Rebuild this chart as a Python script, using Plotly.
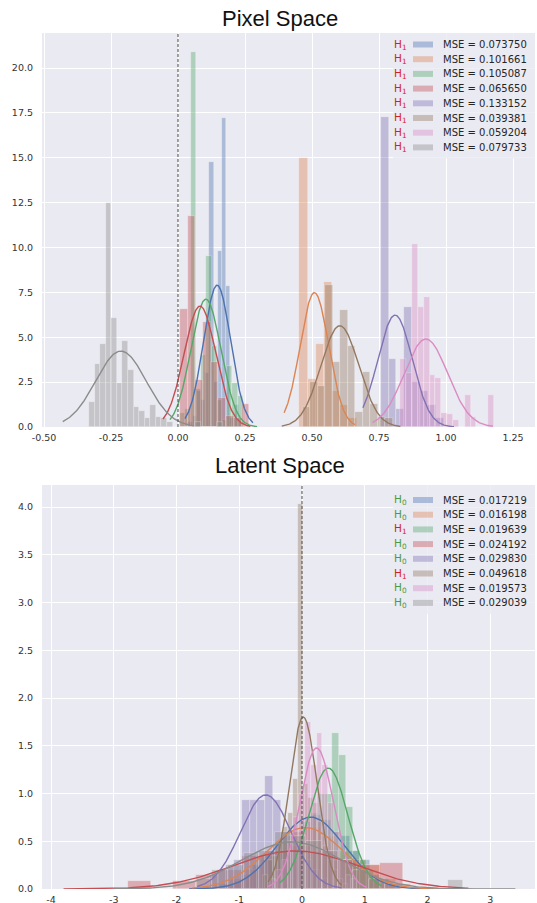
import numpy as np
import plotly.graph_objects as go

FIG_W, FIG_H = 537, 903

PALETTE = ["#4C72B0", "#DD8452", "#55A868", "#C44E52",
           "#8172B3", "#937860", "#DA8BC3", "#8C8C8C"]

# ------------------------------------------------------------------
# Pixel space (top panel)
# ------------------------------------------------------------------
pixel_mse = ["0.073750", "0.101661", "0.105087", "0.065650",
             "0.133152", "0.039381", "0.059204", "0.079733"]
pixel_hyp = ["1", "1", "1", "1", "1", "1", "1", "1"]

pixel_bin_start = [0.0385, 0.453, 0.008, 0.0075, 0.756, 0.465, 0.83, -0.332]
pixel_bin_width = [0.0157, 0.0305, 0.0195, 0.0287, 0.0295, 0.028, 0.0218, 0.0208]

pixel_hist_blue = [0.3, 0.6, 2.0, 1.5, 3.0, 14.75, 2.5, 9.8, 17.2, 7.85, 0.5, 1.2, 0.3]
pixel_hist_orange = [15.0, 2.7, 4.6, 8.1, 2.0, 1.2, 0.5]
pixel_hist_green = [0.8, 1.0, 20.9, 2.1, 4.0, 9.5, 4.5, 1.5, 0.4, 3.4, 2.45, 1.7]
pixel_hist_red = [6.6, 11.75, 2.6, 5.87, 3.6, 1.6, 0.6, 0.5, 1.3]
pixel_hist_purple = [17.27, 3.8, 1.0, 6.7, 2.5, 2.0, 1.2, 0.5]
pixel_hist_brown = [1.1, 2.5, 2.3, 7.9, 3.6, 6.5, 4.5, 0.85, 3.05, 1.3, 0.55, 0.5]
pixel_hist_pink = [3.8, 3.0, 10.2, 6.7, 7.25, 2.9, 2.75, 0.8, 0.75, 0.4, 0.0,
                   1.8, 0.55, 0.0, 0.0, 1.8]
pixel_hist_gray = [1.4, 3.5, 4.6, 12.5, 6.1, 2.45, 4.8, 3.2, 1.1, 0.9, 0.5, 1.2,
                   0.55, 0.5, 0.3, 0.0, 0.0, 0.0, 0.0, 0.3, 0.0, 0.0, 0.0, 0.3]

pixel_fit_mean = [0.146, 0.509, 0.104, 0.082, 0.810, 0.604, 0.925, -0.213]
pixel_fit_std = [0.0505, 0.0533, 0.056, 0.0592, 0.064, 0.0707, 0.0814, 0.0943]
pixel_fit_lo = [0.026, 0.396, -0.03, -0.056, 0.69, 0.387, 0.726, -0.43]
pixel_fit_hi = [0.28, 0.66, 0.295, 0.27, 1.03, 0.83, 1.175, 0.06]

# ------------------------------------------------------------------
# Latent space (bottom panel)
# ------------------------------------------------------------------
latent_mse = ["0.017219", "0.016198", "0.019639", "0.024192",
              "0.029830", "0.049618", "0.019573", "0.029039"]
latent_hyp = ["0", "0", "1", "0", "0", "1", "0", "0"]

latent_bin_start = [-1.40, -1.38, -0.297, -2.78, -1.46, -0.62, -0.508, -1.68]
latent_bin_width = [0.155, 0.24, 0.111, 0.366, 0.125, 0.08, 0.0926, 0.25]

latent_hist_blue = [0.02, 0.05, 0.08, 0.15, 0.25, 0.3, 0.45, 0.55, 0.6, 0.7,
                    0.78, 0.72, 0.6, 0.55, 0.4, 0.3, 0.15, 0.1, 0.05]
latent_hist_orange = [0.05, 0.1, 0.2, 0.35, 0.5, 0.6, 0.65, 0.55, 0.4, 0.3,
                      0.25, 0.1, 0.05]
latent_hist_green = [0.05, 0.1, 0.25, 0.5, 0.8, 1.0, 1.0, 1.63, 1.40, 0.86,
                     0.4, 0.3, 0.2, 0.1]
latent_hist_red = [0.085, 0.0, 0.085, 0.15, 0.2, 0.35, 0.4, 0.45, 0.4, 0.3,
                   0.25, 0.275]
latent_hist_purple = [0.15, 0.2, 0.25, 0.3, 0.93, 0.93, 0.93, 1.18, 0.93, 0.6,
                      0.5, 0.35, 0.3, 0.2, 0.1]
latent_hist_brown = [0.15, 0.3, 0.35, 0.5, 0.65, 0.8, 1.15, 4.03, 1.1, 0.95,
                     0.9, 0.7, 0.45, 0.3, 0.2, 0.1, 0.05]
latent_hist_pink = [0.1, 0.2, 0.3, 0.5, 0.75, 1.0, 1.75, 1.3, 1.63, 1.3, 0.9,
                    0.6, 0.3, 0.15, 0.1]
latent_hist_gray = [0.1, 0.2, 0.25, 0.38, 0.4, 0.6, 0.55, 0.5, 0.4, 0.3, 0.2,
                    0.1, 0.05, 0.0, 0.0, 0.0, 0.095]

latent_fit_mean = [0.138, 0.048, 0.418, -0.11, -0.577, 0.02, 0.233, -0.16]
latent_fit_std = [0.53, 0.62, 0.315, 1.0, 0.405, 0.2216, 0.27, 0.81]
latent_fit_lo = [-1.8, -1.75, -0.35, -3.8, -1.67, -0.54, -0.55, -3.0]
latent_fit_hi = [2.1, 2.3, 1.27, 2.65, 0.63, 0.63, 1.03, 3.4]

pixel_hists = [pixel_hist_blue, pixel_hist_orange, pixel_hist_green, pixel_hist_red,
               pixel_hist_purple, pixel_hist_brown, pixel_hist_pink, pixel_hist_gray]
latent_hists = [latent_hist_blue, latent_hist_orange, latent_hist_green, latent_hist_red,
                latent_hist_purple, latent_hist_brown, latent_hist_pink, latent_hist_gray]

# axis ticks
pixel_xticks = [-0.50, -0.25, 0.00, 0.25, 0.50, 0.75, 1.00, 1.25]
pixel_yticks = [0.0, 2.5, 5.0, 7.5, 10.0, 12.5, 15.0, 17.5, 20.0]
latent_xticks = [-4, -3, -2, -1, 0, 1, 2, 3]
latent_yticks = [0.0, 0.5, 1.0, 1.5, 2.0, 2.5, 3.0, 3.5, 4.0]

HYP_COLORS = {"0": "#4f9a3a", "1": "#d62020"}


def rgba(hex_color, a):
    h = hex_color.lstrip("#")
    r, g, b = int(h[0:2], 16), int(h[2:4], 16), int(h[4:6], 16)
    return f"rgba({r},{g},{b},{a})"


def px_x(p):
    return p / FIG_W


def px_y(p):
    return 1 - p / FIG_H


fig = go.Figure()


def add_panel(hists, starts, widths, means, stds, los, his, xa, ya):
    for i, heights in enumerate(hists):
        col = PALETTE[i]
        w = widths[i]
        n = len(heights)
        centers = [starts[i] + (k + 0.5) * w for k in range(n)]
        fig.add_trace(go.Bar(
            x=centers, y=heights, width=[w] * n,
            marker=dict(color=rgba(col, 0.4),
                        line=dict(color="rgba(255,255,255,0.45)", width=0.6)),
            xaxis=xa, yaxis=ya, showlegend=False, hoverinfo="skip"))
        xs = np.linspace(los[i], his[i], 220)
        ys = np.exp(-0.5 * ((xs - means[i]) / stds[i]) ** 2) / (stds[i] * np.sqrt(2 * np.pi))
        fig.add_trace(go.Scatter(
            x=xs, y=ys, mode="lines",
            line=dict(color=col, width=1.4),
            xaxis=xa, yaxis=ya, showlegend=False, hoverinfo="skip"))


add_panel(pixel_hists, pixel_bin_start, pixel_bin_width, pixel_fit_mean,
          pixel_fit_std, pixel_fit_lo, pixel_fit_hi, "x", "y")
add_panel(latent_hists, latent_bin_start, latent_bin_width, latent_fit_mean,
          latent_fit_std, latent_fit_lo, latent_fit_hi, "x2", "y2")

# plot areas (pixels)
LEFT, RIGHT = 42, 535
TOP1, BOT1 = 33, 427
TOP2, BOT2 = 485, 889

tick_font = dict(family="DejaVu Sans", size=9.5, color="#333333")
axis_common = dict(showgrid=True, gridcolor="white", gridwidth=1, zeroline=False,
                   showline=False, ticks="", tickfont=tick_font, automargin=False)

fig.update_layout(
    width=FIG_W, height=FIG_H,
    margin=dict(l=0, r=0, t=0, b=0, pad=0),
    paper_bgcolor="white", plot_bgcolor="#EAEAF2",
    barmode="overlay", bargap=0, showlegend=False,
    xaxis=dict(domain=[px_x(LEFT), px_x(RIGHT)], anchor="y",
               range=[(LEFT - 178) / 268, (RIGHT - 178) / 268],
               tickvals=pixel_xticks, ticktext=[f"{v:.2f}" for v in pixel_xticks],
               ticklabelstandoff=3, **axis_common),
    yaxis=dict(domain=[px_y(BOT1), px_y(TOP1)], anchor="x",
               range=[0, (BOT1 - TOP1) / 17.95],
               tickvals=pixel_yticks, ticktext=[f"{v:.1f}" for v in pixel_yticks],
               ticklabelstandoff=8, **axis_common),
    xaxis2=dict(domain=[px_x(LEFT), px_x(RIGHT)], anchor="y2",
                range=[(LEFT - 302) / 62.75, (RIGHT - 302) / 62.75],
                tickvals=latent_xticks, ticktext=[f"{v:d}" for v in latent_xticks],
                ticklabelstandoff=3, **axis_common),
    yaxis2=dict(domain=[px_y(BOT2), px_y(TOP2)], anchor="x2",
                range=[0, (BOT2 - TOP2) / 95.5],
                tickvals=latent_yticks, ticktext=[f"{v:.1f}" for v in latent_yticks],
                ticklabelstandoff=8, **axis_common),
)

shapes = []
annotations = []

# dashed reference lines at zero
for xr, yr in (("x", "y domain"), ("x2", "y2 domain")):
    shapes.append(dict(type="line", xref=xr, yref=yr, x0=0, x1=0, y0=0, y1=1,
                       line=dict(color="#4a4a4a", width=1, dash="3px,2px"),
                       layer="above"))

# titles
TITLE_FONT = dict(family="Liberation Sans, Arial, sans-serif", size=22, color="#111111")
annotations.append(dict(text="Pixel Space", x=px_x(279.5), y=px_y(19), xref="paper",
                        yref="paper", showarrow=False, xanchor="center",
                        yanchor="middle", font=TITLE_FONT))
annotations.append(dict(text="Latent Space", x=px_x(279.5), y=px_y(465), xref="paper",
                        yref="paper", showarrow=False, xanchor="center",
                        yanchor="middle", font=TITLE_FONT))

# custom legends
LEG_FONT = dict(family="DejaVu Sans", size=10, color="#262626")


def add_legend(top_px, first_row_px, mses, hyps):
    shapes.append(dict(type="rect", xref="paper", yref="paper",
                       x0=px_x(393), x1=px_x(RIGHT), y0=px_y(top_px),
                       y1=px_y(first_row_px + 7 * 14.7 + 11),
                       fillcolor="rgba(234,234,242,0.8)", line=dict(width=0),
                       layer="above"))
    for i, (m, hyp) in enumerate(zip(mses, hyps)):
        yc = first_row_px + i * 14.7
        shapes.append(dict(type="rect", xref="paper", yref="paper",
                           x0=px_x(413), x1=px_x(433), y0=px_y(yc + 3), y1=px_y(yc - 3),
                           fillcolor=rgba(PALETTE[i], 0.4), line=dict(width=0),
                           layer="above"))
        annotations.append(dict(text=f"H<sub>{hyp}</sub>", x=px_x(409), y=px_y(yc),
                                xref="paper", yref="paper", showarrow=False,
                                xanchor="right", yanchor="middle",
                                font=dict(family="DejaVu Sans", size=10.5,
                                          color=HYP_COLORS[hyp])))
        annotations.append(dict(text=f"MSE = {m}", x=px_x(441), y=px_y(yc),
                                xref="paper", yref="paper", showarrow=False,
                                xanchor="left", yanchor="middle", font=LEG_FONT))


add_legend(TOP1, 44.5, pixel_mse, pixel_hyp)
add_legend(TOP2, 500, latent_mse, latent_hyp)

fig.update_layout(shapes=shapes, annotations=annotations)

fig.write_html("out.html")
